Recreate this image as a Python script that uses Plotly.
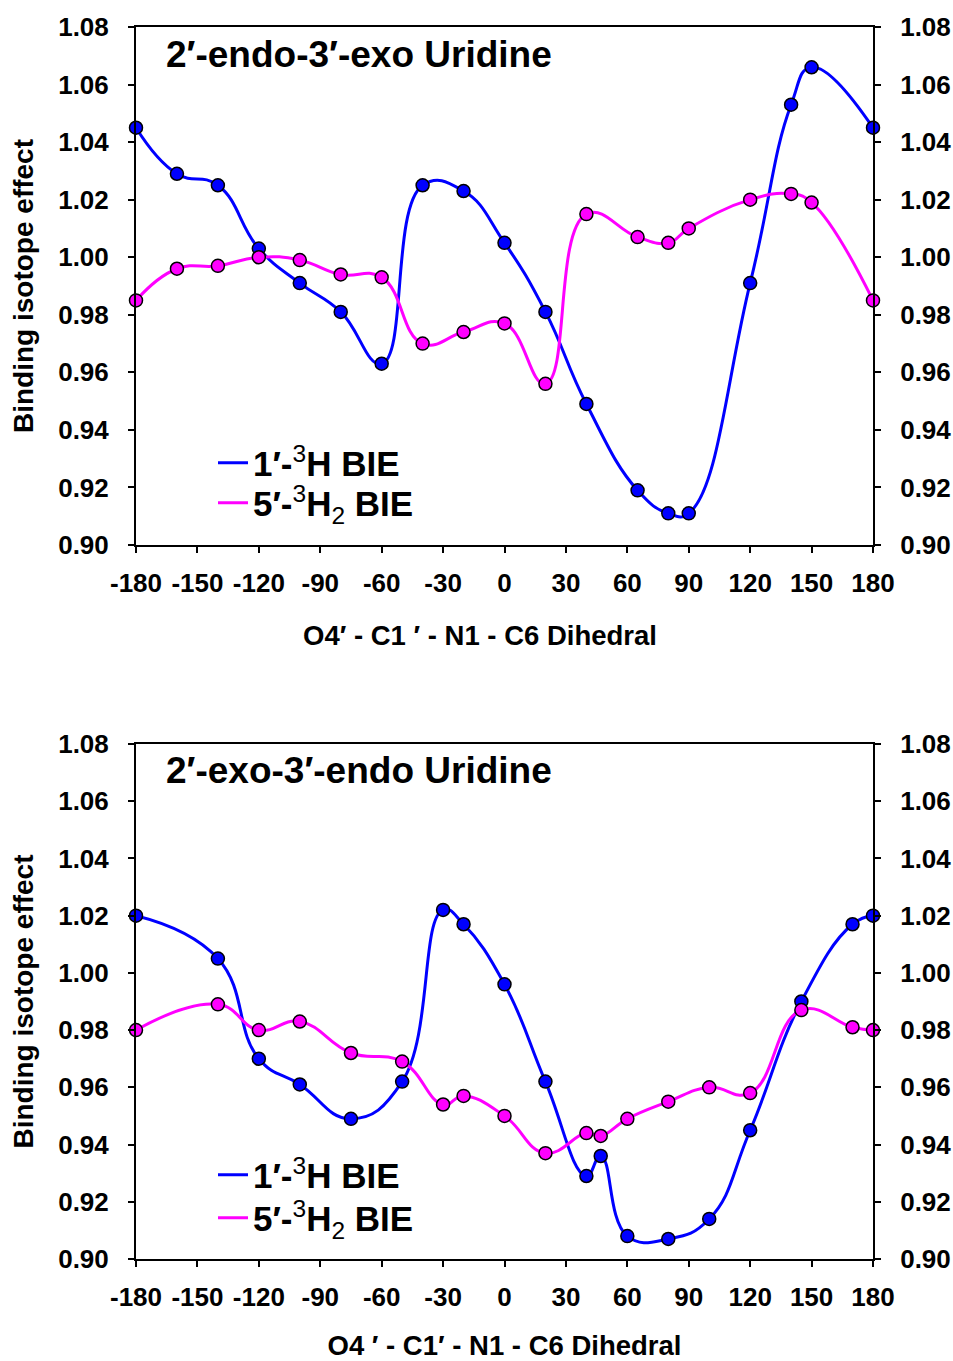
import plotly.graph_objects as go

# ---------------- data ----------------
dihedral_top = [-180, -160, -140, -120, -100, -80, -60, -40, -20, 0, 20, 40, 65, 80, 90, 120, 140, 150, 180]
bie_1h_top = [1.045, 1.029, 1.025, 1.003, 0.991, 0.981, 0.963, 1.025, 1.023, 1.005, 0.981, 0.949, 0.919,
              0.911, 0.911, 0.991, 1.053, 1.066, 1.045]
bie_5h2_top = [0.985, 0.996, 0.997, 1.000, 0.999, 0.994, 0.993, 0.970, 0.974, 0.977, 0.956, 1.015, 1.007,
               1.005, 1.010, 1.020, 1.022, 1.019, 0.985]

dihedral_bot = [-180, -140, -120, -100, -75, -50, -30, -20, 0, 20, 40, 47, 60, 80, 100, 120, 145, 170, 180]
bie_1h_bot = [1.020, 1.005, 0.970, 0.961, 0.949, 0.962, 1.022, 1.017, 0.996, 0.962, 0.929, 0.936, 0.908,
              0.907, 0.914, 0.945, 0.990, 1.017, 1.020]
bie_5h2_bot = [0.980, 0.989, 0.980, 0.983, 0.972, 0.969, 0.954, 0.957, 0.950, 0.937, 0.944, 0.943, 0.949,
               0.955, 0.960, 0.958, 0.987, 0.981, 0.980]

x_ticks = [-180, -150, -120, -90, -60, -30, 0, 30, 60, 90, 120, 150, 180]
y_ticks = [0.90, 0.92, 0.94, 0.96, 0.98, 1.00, 1.02, 1.04, 1.06, 1.08]

panel_titles = ["2\u2032-endo-3\u2032-exo Uridine", "2\u2032-exo-3\u2032-endo Uridine"]
name_1h = "1\u2032-<span style='font-weight:normal'><sup>3</sup></span>H BIE"
name_5h2 = "5\u2032-<span style='font-weight:normal'><sup>3</sup></span>H<span style='font-weight:normal'><sub>2</sub></span> BIE"
x_title_top = "O4\u2032 - C1 \u2032 - N1 - C6 Dihedral"
x_title_bot = "O4 \u2032 - C1\u2032 - N1 - C6 Dihedral"
y_title = "Binding isotope effect"

BLUE = "#0000FF"
MAGENTA = "#FF00FF"
FONT = "Liberation Sans, Arial, sans-serif"

fig = go.Figure()

panels = [
    (dihedral_top, bie_1h_top, bie_5h2_top, "x", "y", "y3", ("legend", "legend2")),
    (dihedral_bot, bie_1h_bot, bie_5h2_bot, "x2", "y2", "y4", ("legend3", "legend4")),
]
for xs, b1, b2, xa, ya, yr, lgs in panels:
    for vals, col, nm, lg in [(b1, BLUE, name_1h, lgs[0]), (b2, MAGENTA, name_5h2, lgs[1])]:
        fig.add_trace(go.Scatter(
            x=xs, y=vals, mode="lines", name=nm, legend=lg,
            line=dict(color=col, width=3, shape="spline", smoothing=1.3),
            xaxis=xa, yaxis=ya, hoverinfo="skip"))
    for vals, col in [(b1, BLUE), (b2, MAGENTA)]:
        fig.add_trace(go.Scatter(
            x=xs, y=vals, mode="markers", showlegend=False, cliponaxis=False,
            marker=dict(color=col, size=13, line=dict(color="black", width=1.5)),
            xaxis=xa, yaxis=yr))

tickfont = dict(family=FONT, size=26, color="black", weight="bold")
common_x = dict(range=[-180, 180], tickvals=x_ticks, ticktext=[str(v) for v in x_ticks],
                showgrid=False, zeroline=False, showline=True, linecolor="black", linewidth=2,
                mirror=True, ticks="outside", ticklen=6, tickwidth=2, tickcolor="black",
                tickfont=tickfont, ticklabelstandoff=8, automargin=False)
common_y = dict(range=[0.90, 1.08], tickvals=y_ticks, tickformat=".2f",
                showgrid=False, zeroline=False, showline=True, linecolor="black", linewidth=2,
                ticks="outside", ticklen=6, tickwidth=2, tickcolor="black",
                tickfont=tickfont, ticklabelstandoff=14, automargin=False)

top_dom = [1 - 518 / 1232, 1.0]
bot_dom = [0.0, 515 / 1232]

legend_font = dict(family=FONT, size=35, color="black", weight="bold")


def legend_at(ypix):
    return dict(x=(213 - 136) / 737, y=(1259 - ypix) / 1232, xanchor="left", yanchor="middle",
                xref="paper", yref="paper", font=legend_font,
                bgcolor="rgba(0,0,0,0)", borderwidth=0)


title_font = dict(family=FONT, size=28, weight="bold")

fig.update_layout(
    width=953, height=1361,
    margin=dict(l=136, r=80, t=27, b=102),
    paper_bgcolor="white", plot_bgcolor="white",
    font=dict(family=FONT, color="black"),
    xaxis=dict(**common_x, anchor="y", domain=[0, 1]),
    xaxis2=dict(**common_x, anchor="y2", domain=[0, 1],
                title=dict(text=x_title_bot, font=dict(family=FONT, size=27.5, weight="bold"), standoff=27)),
    yaxis=dict(**common_y, anchor="x", domain=top_dom,
               title=dict(text=y_title, font=title_font, standoff=16)),
    yaxis2=dict(**common_y, anchor="x2", domain=bot_dom,
                title=dict(text=y_title, font=title_font, standoff=16)),
    yaxis3=dict(**common_y, anchor="x", overlaying="y", side="right"),
    yaxis4=dict(**common_y, anchor="x2", overlaying="y2", side="right"),
    legend=legend_at(463),
    legend2=legend_at(503),
    legend3=legend_at(1175),
    legend4=legend_at(1218),
    showlegend=True,
)

# panel titles inside plot areas
for k, (xr, yr, ypos) in enumerate([("x domain", "y domain", 0.946), ("x2 domain", "y2 domain", 0.9495)]):
    fig.add_annotation(text=panel_titles[k], xref=xr, yref=yr, x=0.038, y=ypos,
                       xanchor="left", yanchor="middle", showarrow=False,
                       font=dict(family=FONT, size=37, color="black", weight="bold"))
# top x-axis title
fig.add_annotation(text=x_title_top, xref="x domain", yref="y domain", x=(480 - 136) / 737, y=-(635 - 545) / 518,
                   xanchor="center", yanchor="middle", showarrow=False,
                   font=dict(family=FONT, size=27.5, color="black", weight="bold"))

fig.write_html("out.html", config={"displayModeBar": False},
               post_script="document.body.style.margin='0';document.body.style.overflow='hidden';")
